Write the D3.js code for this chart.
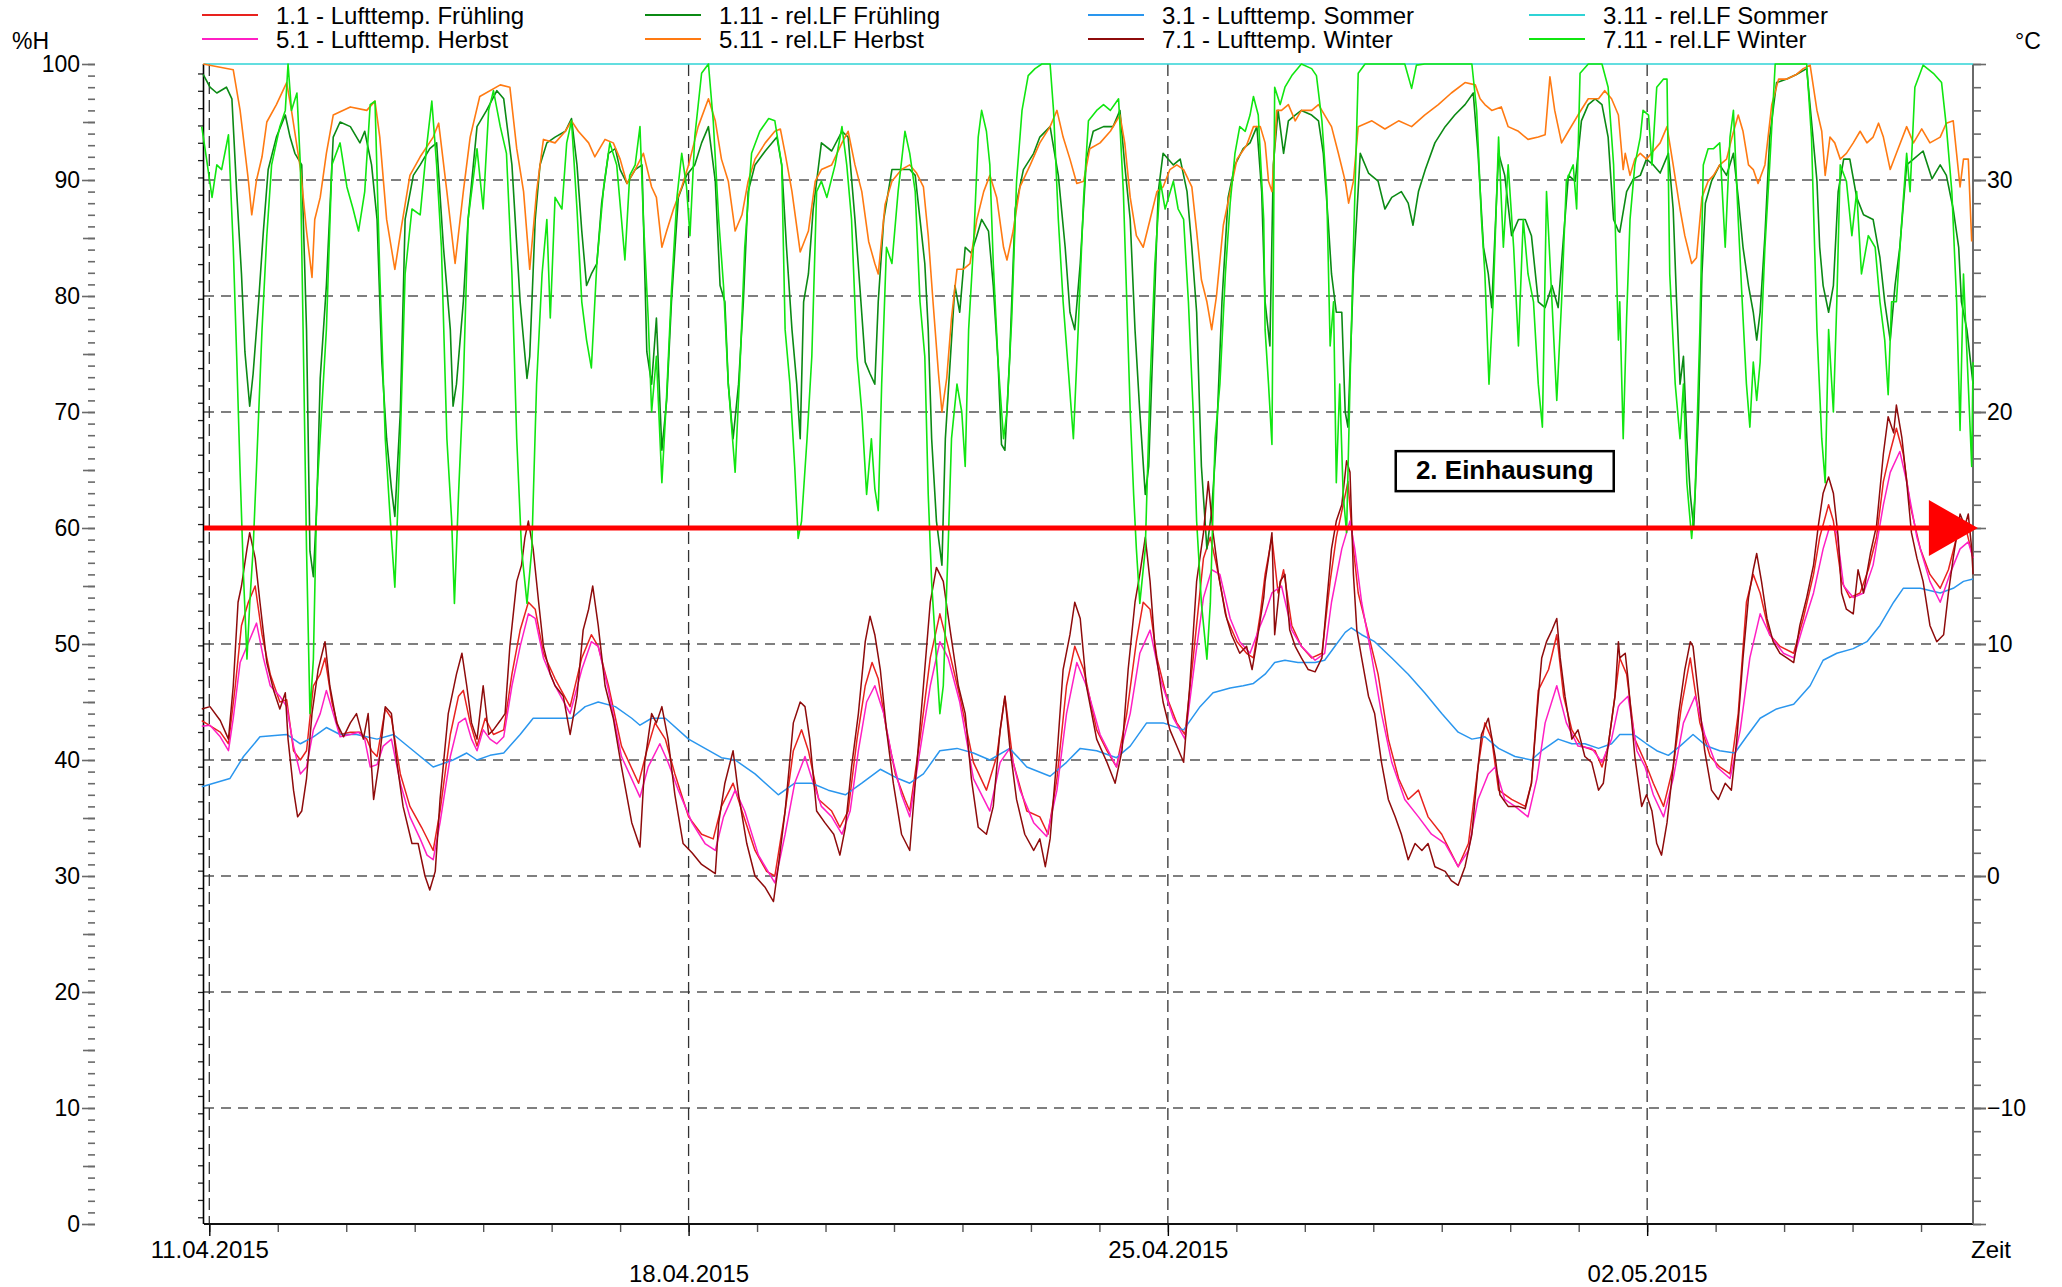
<!DOCTYPE html>
<html><head><meta charset="utf-8">
<script src="https://cdn.jsdelivr.net/npm/d3@7"></script>
<style>
body{margin:0;background:#fff}
svg{display:block}
text{font-family:"Liberation Sans",Arial,sans-serif;fill:#000}
</style>
</head><body>
<svg id="chart" width="2062" height="1287"></svg>
<script>
// ---- time domain (days after 11.04.2015 00:00 UTC) ----
const domainDays = [-0.0774, 25.759];
const weekTicks = ["2015-04-11", "2015-04-18", "2015-04-25", "2015-05-02"];
const weekLabels = ["11.04.2015", "18.04.2015", "25.04.2015", "02.05.2015"];
const rhTicks = [0, 10, 20, 30, 40, 50, 60, 70, 80, 90, 100];
const rhGrid = [10, 20, 30, 40, 50, 60, 70, 80, 90];
const tempTicks = [-10, 0, 10, 20, 30];

const seriesNames = ["1.1 - Lufttemp. Frühling", "1.11 - rel.LF Frühling", "3.1 - Lufttemp. Sommer", "3.11 - rel.LF Sommer",
  "5.1 - Lufttemp. Herbst", "5.11 - rel.LF Herbst", "7.1 - Lufttemp. Winter", "7.11 - rel.LF Winter"];

// [day, °C]
const tFruehling = [[-0.11,6.7],[0.16,6.2],[0.28,5.7],[0.38,8.2],[0.47,10.8],[0.57,11.8],[0.67,12.5],[0.77,10.4],[0.89,8.7],[1.03,7.5],[1.13,7.6],[1.23,5.4],[1.33,5],[1.42,5.4],[1.52,8.2],[1.62,8.7],[1.69,9.4],[1.79,7.5],[1.91,6.1],[2.06,6.2],[2.20,6.2],[2.30,5.9],[2.37,5.4],[2.45,5.15],[2.57,7.2],[2.66,6.8],[2.79,4.4],[2.93,3],[3.10,2.1],[3.27,1.1],[3.37,2.8],[3.52,6.1],[3.64,7.75],[3.71,8],[3.81,6.6],[3.91,5.6],[4.03,6.8],[4.15,6.1],[4.30,6.3],[4.42,8.7],[4.54,10.6],[4.66,11.8],[4.76,11.5],[4.88,9.6],
[5.05,8.5],[5.27,7.3],[5.44,9.4],[5.58,10.4],[5.68,9.9],[5.83,8.2],[6.02,5.6],[6.27,4],[6.39,5.4],[6.51,6.6],[6.66,5.9],[6.80,4.4],[7.00,2.55],[7.19,1.8],[7.36,1.6],[7.48,3],[7.65,4],[7.78,2.8],[7.97,1.1],[8.14,0.2],[8.26,0],[8.41,2.8],[8.53,5.4],[8.65,6.3],[8.75,5.4],[8.90,3.3],[9.09,2.8],[9.21,2.1],[9.33,2.8],[9.46,5.9],[9.58,8.2],[9.68,9.2],[9.77,8.5],[9.89,6.3],[10.02,4.4],[10.16,3.3],
[10.23,2.8],[10.38,5.9],[10.53,9.4],[10.67,11.3],[10.79,9.9],[10.96,7.75],[11.16,4.9],[11.35,3.7],[11.50,5.15],[11.62,7.75],[11.74,4.9],[11.94,2.8],[12.13,2.55],[12.25,1.8],[12.38,4.2],[12.52,8.2],[12.64,9.9],[12.77,8.9],[12.96,6.3],[13.11,5.4],[13.25,4.7],[13.40,7],[13.54,10.1],[13.64,11.8],[13.74,11.5],[13.84,9.4],[13.98,7.75],[14.13,6.6],[14.25,6.1],[14.37,9.4],[14.52,13.7],[14.62,14.6],[14.71,13.4],[14.86,11.1],[15.01,10.1],[15.15,9.6],[15.25,9.4],[15.35,11.3],
[15.42,13],[15.52,14.6],[15.61,12.2],[15.69,13.2],[15.81,10.8],[15.95,9.9],[16.10,9.4],[16.25,9.6],[16.37,12.7],[16.46,14.6],[16.56,16],[16.63,17],[16.71,14.1],[16.78,12.2],[16.93,10.4],[17.07,8.7],[17.22,5.9],[17.37,4.2],[17.51,3.3],[17.66,3.7],[17.80,2.55],[18.00,1.8],[18.24,0.4],[18.39,1.4],[18.53,4.7],[18.63,6.6],[18.73,5.9],[18.83,3.7],[19.02,3.3],[19.22,3],[19.31,4],[19.41,8],[19.56,8.9],[19.68,10.4],[19.78,7.75],[19.90,6.3],[20.04,5.6],[20.24,5.4],[20.34,4.7],[20.43,5.6],[20.53,7.75],
[20.60,9.4],[20.70,8.7],[20.82,5.9],[20.97,4.9],[21.09,4],[21.24,3],[21.38,4.7],[21.50,7.3],[21.63,9.4],[21.77,6.6],[21.92,5.15],[22.06,4.7],[22.21,4.4],[22.33,7],[22.45,11.8],[22.55,13],[22.65,12.2],[22.79,10.4],[22.94,9.9],[23.14,9.6],[23.28,11.1],[23.43,13],[23.52,14.6],[23.65,16],[23.72,15.3],[23.84,12.7],[23.96,12],[24.11,12.2],[24.23,13.2],[24.35,14.6],[24.45,17],[24.55,18.3],[24.64,19.3],[24.74,18.2],[24.84,16],[24.99,14.1],[25.13,13],[25.28,12.4],[25.40,13.2],[25.52,14.6],[25.67,14.8],[25.76,13.7]];

// [day, %H]
const rhFruehling = [[-0.09,99.1],[0.01,98],[0.11,97.5],[0.25,98],[0.33,97],[0.40,89],[0.47,81.9],[0.52,75.2],[0.59,70.5],[0.64,73.3],[0.72,79.5],[0.79,85.6],[0.86,90.9],[0.98,93.7],[1.11,95.6],[1.18,93.7],[1.25,92.3],[1.35,91.3],[1.42,77.1],[1.47,58],[1.52,55.8],[1.57,62],[1.62,72.9],[1.71,80.9],[1.81,93.7],[1.91,95],[2.06,94.6],[2.20,93.2],[2.27,94.2],[2.37,91.3],[2.45,86.6],[2.52,74.3],[2.59,67.7],[2.66,63.4],[2.71,61],[2.79,70],[2.86,86.6],[2.98,90.4],[3.08,91.3],[3.22,92.7],[3.32,93.2],[3.42,84.2],[3.52,77.1],[3.56,70.5],[3.61,72.4],[3.71,79.5],[3.78,86.6],[3.91,94.6],[4.05,96],[4.20,97.7],[4.30,97],[4.42,91.3],[4.54,79.5],[4.64,72.9],[4.68,74.8],[4.76,86.6],[4.83,91.3],[4.93,93.2],
[5.05,93.7],[5.20,94.2],[5.29,95.3],[5.37,91.3],[5.44,85.6],[5.51,80.9],[5.58,81.9],[5.66,82.8],[5.73,88],[5.83,92.3],[5.93,92.7],[6.00,90.9],[6.10,89.7],[6.22,90.9],[6.32,91.3],[6.39,75.2],[6.46,72.4],[6.53,78.1],[6.61,66.7],[6.68,71],[6.75,79.5],[6.85,88.5],[6.97,90.4],[7.09,91.3],[7.19,93.2],[7.29,94.6],[7.39,89.9],[7.46,80.9],[7.53,79.5],[7.58,72.4],[7.65,67.7],[7.73,72.4],[7.80,79.5],[7.87,89],[7.97,91.3],[8.12,92.5],[8.29,93.7],[8.36,91.3],[8.43,84.2],[8.51,77.1],[8.58,72.4],[8.63,67.7],[8.68,79.5],[8.75,81.9],[8.82,87.5],[8.94,93.2],[9.09,92.5],[9.24,94.2],[9.33,93.7],[9.43,86.6],[9.50,80.9],[9.58,74.3],[9.65,73.3],[9.72,72.4],[9.77,79.5],[9.85,86.6],[9.97,90.9],[10.11,90.9],
[10.23,90.9],[10.31,90.4],[10.38,86.6],[10.45,82.8],[10.50,77.1],[10.55,67.7],[10.62,60.6],[10.70,56.8],[10.75,67.7],[10.82,74.3],[10.89,80.9],[10.96,78.6],[11.04,84.2],[11.13,83.7],[11.21,85.2],[11.28,86.6],[11.38,85.6],[11.45,80.9],[11.52,74.3],[11.57,67.2],[11.62,66.7],[11.69,74.8],[11.77,87.5],[11.89,90.9],[12.04,92.3],[12.13,93.7],[12.28,94.6],[12.40,90.4],[12.50,84.2],[12.57,78.6],[12.64,77.1],[12.72,82.8],[12.81,91.8],[12.91,94.2],[13.06,94.6],[13.20,94.6],[13.30,96],[13.37,91.3],[13.45,86.6],[13.52,77.1],[13.59,70],[13.67,62.9],[13.72,65.3],[13.79,77.1],[13.86,89],[13.93,92.3],[14.08,91.3],[14.18,91.8],[14.28,89],[14.35,84.2],[14.42,78.6],[14.49,65.3],[14.57,58.2],[14.64,61.5],[14.71,67.7],[14.79,79.5],[14.88,88.5],[14.98,91.3],[15.10,92.7],[15.20,93.2],[15.30,94.6],[15.37,89],
[15.42,79.5],[15.49,75.7],[15.54,91.3],[15.61,96],[15.69,92.3],[15.76,95.1],[15.86,95.6],[15.95,96],[16.10,95.6],[16.20,95.1],[16.27,92.3],[16.34,86.6],[16.39,81.9],[16.46,78.6],[16.54,78.6],[16.59,70],[16.63,68.7],[16.71,81.9],[16.81,92.3],[16.93,90.6],[17.07,89.9],[17.17,87.5],[17.27,88.5],[17.41,89],[17.51,88],[17.58,86.1],[17.66,89],[17.76,90.9],[17.90,93.2],[18.05,94.6],[18.19,95.6],[18.34,96.5],[18.46,97.5],[18.53,92.3],[18.61,84.2],[18.68,81.9],[18.73,79],[18.83,92.3],[18.92,90.4],[19.02,85.2],[19.12,86.6],[19.22,86.6],[19.31,85.2],[19.41,79.5],[19.51,79],[19.61,80.9],[19.70,79],[19.78,85.2],[19.85,90.4],[19.95,89.9],[20.04,95.1],[20.14,96.5],[20.24,97],[20.34,96.5],[20.43,93.7],[20.51,86.6],[20.58,85.6],
[20.60,85.5],[20.70,89],[20.80,90.1],[20.90,90.4],[20.99,91.8],[21.09,91.3],[21.19,90.6],[21.31,92.3],[21.38,87.5],[21.43,79.5],[21.48,72.4],[21.53,74.8],[21.58,67.7],[21.63,62.9],[21.68,60],[21.75,70],[21.80,81.9],[21.85,88],[21.94,89.9],[22.06,91.3],[22.16,90.4],[22.26,92.3],[22.33,88.5],[22.40,84.2],[22.48,80.9],[22.55,78.6],[22.60,76.2],[22.65,78.6],[22.72,85.2],[22.79,93.7],[22.89,98.4],[23.04,98.7],[23.18,99.1],[23.33,99.6],[23.40,95.1],[23.48,89.9],[23.52,84.2],[23.57,80.9],[23.65,78.6],[23.72,80.9],[23.79,89],[23.87,91.8],[23.96,91.8],[24.06,88.5],[24.16,87],[24.30,86.6],[24.40,83.3],[24.47,79.5],[24.55,76.2],[24.62,80.9],[24.69,84.2],[24.79,91.3],[24.89,91.8],[25.03,92.5],[25.16,90.1],[25.28,91.3],[25.37,90.4],[25.47,87.5],[25.55,84.2],[25.59,79.5],[25.67,77.1],[25.76,72.4]];

// [day, °C]
const tSommer = [[-0.11,3.85],[0.30,4.2],[0.50,5.15],[0.74,6],[1.13,6.1],[1.33,5.7],[1.52,6],[1.71,6.4],[1.91,6.1],[2.15,6.1],[2.45,5.9],[2.69,6.1],[2.98,5.4],[3.27,4.7],[3.56,5],[3.76,5.3],[3.91,5],[4.10,5.2],[4.30,5.3],[4.54,6.1],[4.73,6.8],[4.93,6.8],
[5.05,6.8],[5.29,6.8],[5.49,7.3],[5.68,7.5],[5.93,7.3],[6.17,6.8],[6.29,6.5],[6.46,6.8],[6.66,6.8],[7.00,5.9],[7.24,5.5],[7.48,5.1],[7.68,5],[7.97,4.4],[8.31,3.5],[8.55,4],[8.80,4],[9.04,3.7],[9.29,3.5],[9.53,4],[9.80,4.6],[10.06,4.2],
[10.23,4],[10.43,4.4],[10.67,5.4],[10.92,5.5],[11.16,5.3],[11.40,5],[11.69,5.5],[11.94,4.7],[12.28,4.3],[12.52,4.9],[12.72,5.5],[12.96,5.4],[13.25,5.1],[13.45,5.6],[13.69,6.6],[13.93,6.6],[14.23,6.3],[14.47,7.3],[14.66,7.9],[14.91,8.1],[15.10,8.2],[15.25,8.3],
[15.42,8.7],[15.56,9.2],[15.71,9.3],[15.90,9.2],[16.15,9.2],[16.29,9.3],[16.44,9.9],[16.59,10.5],[16.68,10.7],[16.83,10.4],[17.02,10.1],[17.27,9.4],[17.51,8.7],[17.75,7.9],[18.00,7],[18.24,6.2],[18.44,5.9],[18.63,6],[18.83,5.5],[19.07,5.15],[19.31,5],[19.46,5.4],[19.70,5.9],[19.90,5.7],[20.09,5.7],[20.29,5.5],[20.48,5.7],
[20.60,6.1],[20.80,6.1],[20.99,5.7],[21.14,5.4],[21.31,5.2],[21.48,5.6],[21.67,6.1],[21.87,5.6],[22.06,5.4],[22.28,5.3],[22.45,6],[22.65,6.8],[22.89,7.2],[23.14,7.4],[23.38,8.2],[23.57,9.3],[23.77,9.6],[24.01,9.8],[24.21,10.1],[24.40,10.8],[24.60,11.8],[24.74,12.4],[24.99,12.4],[25.28,12.2],[25.47,12.4],[25.62,12.7],[25.76,12.8]];

// [day, %H]
const rhSommer = [[-0.08,100],[25.76,100]];

// [day, °C]
const tHerbst = [[-0.11,6.45],[0.01,6.5],[0.16,6],[0.28,5.4],[0.35,6.8],[0.45,9.2],[0.55,9.9],[0.69,10.9],[0.79,9.4],[0.89,8.2],[1.03,7.75],[1.13,7.3],[1.23,5.6],[1.33,4.4],[1.42,4.7],[1.52,6.3],[1.62,7],[1.71,8],[1.81,7],[1.91,6],[2.06,6.1],[2.18,6.2],[2.27,5.9],[2.35,4.7],[2.45,4.8],[2.54,5.6],[2.66,5.9],[2.79,4],[2.93,2.55],[3.08,1.6],[3.18,0.9],[3.27,0.7],[3.37,2.3],[3.52,5.15],[3.64,6.6],[3.74,6.8],[3.83,5.9],[3.91,5.4],[4.00,6.3],[4.10,5.9],[4.20,5.7],[4.30,6],[4.42,8.2],[4.54,9.9],[4.66,11.3],[4.76,11.1],[4.88,9.4],
[5.05,8.2],[5.27,7],[5.44,8.9],[5.58,10.1],[5.68,9.9],[5.83,8],[6.02,5.15],[6.29,3.4],[6.41,4.7],[6.58,5.7],[6.70,4.9],[6.85,3.7],[7.05,2.3],[7.24,1.4],[7.39,1.1],[7.51,2.55],[7.68,3.7],[7.82,2.8],[8.02,0.9],[8.26,-0.3],[8.41,1.8],[8.55,4],[8.70,5.15],[8.80,4.2],[8.94,3],[9.09,2.55],[9.24,1.8],[9.36,2.8],[9.48,5.4],[9.60,7.5],[9.72,8.2],[9.85,7],[9.97,5.15],[10.11,3.5],
[10.23,2.55],[10.38,5.4],[10.53,8.2],[10.67,10.1],[10.79,9.4],[10.96,7.5],[11.16,4.2],[11.40,2.8],[11.55,4.9],[11.69,5.5],[11.84,3.7],[12.04,2.3],[12.23,1.7],[12.38,3.7],[12.52,7],[12.67,9.2],[12.81,8.2],[13.01,6.1],[13.25,4.7],[13.45,7],[13.59,9.6],[13.74,10.6],[13.89,8.5],[14.08,6.8],[14.25,5.9],[14.40,9.4],[14.52,12],[14.64,13.2],[14.76,13],[14.91,11.1],[15.05,10.1],[15.20,9.6],[15.35,10.8],
[15.42,11.3],[15.52,12.2],[15.66,12.5],[15.81,10.6],[15.95,9.9],[16.15,9.3],[16.29,9.6],[16.39,11.8],[16.54,14.1],[16.66,15.3],[16.73,14.1],[16.83,11.8],[16.98,9.4],[17.12,7],[17.27,4.9],[17.46,3.3],[17.66,2.55],[17.85,1.8],[18.05,1.4],[18.24,0.4],[18.39,1.1],[18.53,3.3],[18.68,4.4],[18.78,4.7],[18.92,3.3],[19.07,3],[19.26,2.55],[19.39,4.2],[19.51,6.6],[19.68,8.2],[19.82,6.6],[19.99,5.6],[20.19,5.5],[20.34,4.9],[20.48,5.9],[20.58,7.3],
[20.60,7.4],[20.72,7.75],[20.85,5.4],[20.97,4.7],[21.09,3.5],[21.24,2.55],[21.38,4.2],[21.53,6.6],[21.70,7.75],[21.84,6.1],[22.02,4.7],[22.21,4.2],[22.36,6.3],[22.50,9.4],[22.65,11.3],[22.79,10.4],[22.99,9.6],[23.14,9.4],[23.28,10.8],[23.43,12.2],[23.57,14.1],[23.67,15.1],[23.77,14.8],[23.87,12.5],[24.01,12],[24.16,12.2],[24.30,13.4],[24.45,16],[24.55,17.4],[24.69,18.3],[24.79,17],[24.94,14.6],[25.13,12.7],[25.28,11.8],[25.42,13],[25.57,14.1],[25.69,14.4],[25.76,13.7]];

// [day, %H]
const rhHerbst = [[-0.09,100],[0.35,99.5],[0.45,96],[0.57,90],[0.62,87],[0.69,90],[0.77,92],[0.84,95],[0.98,96.5],[1.13,98.4],[1.20,96],[1.33,91],[1.42,85.6],[1.50,81.6],[1.54,86.6],[1.62,88.5],[1.71,92.3],[1.81,95.6],[2.06,96.3],[2.30,96],[2.42,96.8],[2.49,93.7],[2.59,86.6],[2.71,82.3],[2.81,86.1],[2.93,90.4],[3.08,92],[3.27,93.7],[3.35,94.9],[3.47,89],[3.59,82.8],[3.71,89],[3.81,93.7],[3.95,97.2],[4.25,98.2],[4.39,98],[4.49,92.7],[4.59,89],[4.68,82.3],[4.78,89],[4.88,93.5],
[5.05,93.2],[5.20,94.2],[5.29,95.1],[5.39,94.2],[5.54,93.2],[5.63,92],[5.78,93.5],[5.90,93.2],[6.00,91.8],[6.10,89.7],[6.22,90.9],[6.34,92.3],[6.46,89.4],[6.53,88.5],[6.61,84.2],[6.68,85.6],[6.78,87.5],[6.90,89.4],[7.00,91.3],[7.14,94.6],[7.29,97],[7.39,95.1],[7.48,91.8],[7.58,89.9],[7.68,85.6],[7.78,87],[7.87,89.9],[7.97,91.8],[8.12,93.2],[8.26,94.2],[8.34,94.4],[8.41,92.3],[8.51,89],[8.63,83.8],[8.75,85.6],[8.85,89.9],[8.94,90.9],[9.09,91.3],[9.24,93.2],[9.33,94.2],[9.43,91.3],[9.53,89],[9.63,84.7],[9.72,82.8],[9.77,81.9],[9.87,87.9],[9.97,89.9],[10.11,90.9],
[10.23,91.3],[10.33,90.6],[10.43,89.4],[10.50,85.2],[10.57,79.5],[10.65,73.3],[10.70,70],[10.77,72.9],[10.84,78.1],[10.92,82.3],[11.01,82.3],[11.11,82.8],[11.21,86.6],[11.31,89],[11.40,90.4],[11.50,88.5],[11.60,84.2],[11.65,83.1],[11.74,85.6],[11.84,89.4],[11.99,91.3],[12.13,93.2],[12.28,94.6],[12.38,96],[12.47,93.7],[12.57,91.8],[12.67,89.7],[12.77,89.9],[12.86,92.7],[13.01,93.2],[13.16,94.2],[13.30,95.6],[13.37,93.2],[13.45,88.5],[13.54,85.2],[13.64,84.2],[13.74,86.6],[13.84,89],[13.93,89.4],[14.03,90.9],[14.13,91.3],[14.23,90.9],[14.35,89.4],[14.42,85.6],[14.49,81.4],[14.57,79.5],[14.64,77.1],[14.71,80],[14.81,86.1],[14.91,89],[15.01,91.8],[15.15,93],[15.25,94.6],[15.35,94.6],
[15.42,93.2],[15.47,89.9],[15.52,89],[15.59,96],[15.66,96],[15.76,96.5],[15.86,95.1],[15.95,96],[16.10,96],[16.20,96.5],[16.29,95.6],[16.39,94.6],[16.49,92.3],[16.59,89.9],[16.64,88],[16.71,89.9],[16.78,94.6],[16.98,95.1],[17.17,94.4],[17.37,95.1],[17.56,94.6],[17.75,95.6],[17.95,96.5],[18.14,97.5],[18.34,98.4],[18.49,98.2],[18.56,97],[18.63,96.5],[18.73,96],[18.87,96.3],[18.97,94.6],[19.12,94.2],[19.26,93.5],[19.41,93.7],[19.51,93.9],[19.58,98.9],[19.65,96],[19.75,93.2],[19.85,94.2],[19.99,95.6],[20.14,97],[20.29,97],[20.38,97.7],[20.48,97],[20.58,95.6],
[20.65,90.9],[20.68,92.3],[20.75,90.4],[20.82,91.8],[20.90,92.3],[20.99,91.8],[21.09,92.5],[21.19,93.2],[21.29,94.6],[21.38,91.3],[21.48,87.5],[21.55,85.2],[21.65,82.8],[21.72,83.3],[21.80,88.5],[21.89,89.9],[21.97,90.4],[22.06,91.3],[22.16,91.8],[22.24,93.7],[22.33,95.6],[22.40,94.2],[22.48,91.3],[22.55,90.9],[22.62,89.7],[22.72,91.3],[22.82,96.5],[22.92,98.7],[23.04,98.7],[23.18,99.1],[23.28,99.6],[23.38,99.9],[23.48,96],[23.55,94.2],[23.60,90.4],[23.67,93.7],[23.74,93.2],[23.82,91.8],[23.91,92.3],[24.01,93.2],[24.11,94.2],[24.21,93.2],[24.30,93.7],[24.38,94.9],[24.45,93.7],[24.55,90.9],[24.64,92.3],[24.79,94.6],[24.89,93.2],[25.01,94.4],[25.13,93.2],[25.28,93.7],[25.37,94.9],[25.47,95.1],[25.57,89.4],[25.62,91.8],[25.69,91.8],[25.74,84.7]];

// [day, °C]
const tWinter = [[-0.11,7.2],[0.01,7.3],[0.16,6.7],[0.28,5.9],[0.35,8.2],[0.42,11.8],[0.47,12.5],[0.55,14.1],[0.59,14.8],[0.67,13.7],[0.74,11.8],[0.84,9.2],[0.94,8],[1.03,7.2],[1.11,7.9],[1.15,5.9],[1.23,3.7],[1.29,2.55],[1.35,2.8],[1.42,4.2],[1.50,7],[1.59,8.9],[1.69,10.1],[1.76,8.2],[1.86,6.6],[1.96,6],[2.06,6.6],[2.15,7],[2.25,5.9],[2.32,7],[2.40,3.3],[2.47,4.7],[2.57,7.3],[2.66,7],[2.74,4.9],[2.83,3],[2.96,1.4],[3.05,1.4],[3.15,0],[3.22,-0.6],[3.30,0.2],[3.37,3.3],[3.49,7],[3.61,8.7],[3.69,9.6],[3.76,8.2],[3.83,6.6],[3.91,5.9],[4.00,8.2],[4.08,6.1],[4.15,6.3],[4.25,6.7],[4.32,7],[4.39,9.9],[4.49,12.7],[4.56,13.4],[4.61,14.6],[4.66,15.3],[4.73,14.1],[4.81,11.8],[4.88,9.9],[4.98,8.7],
[5.05,8.2],[5.17,7.75],[5.27,6.1],[5.37,7.75],[5.46,10.6],[5.54,11.5],[5.60,12.5],[5.68,10.8],[5.78,8.2],[5.90,6.8],[6.02,4.7],[6.17,2.3],[6.29,1.25],[6.36,4.9],[6.46,7],[6.53,6.6],[6.61,7.3],[6.70,5.9],[6.80,3.5],[6.92,1.4],[7.05,1],[7.19,0.5],[7.39,0.1],[7.44,2.3],[7.53,4],[7.65,5.4],[7.73,3.5],[7.85,1.4],[7.97,0],[8.12,-0.5],[8.24,-1.1],[8.31,0.4],[8.41,2.8],[8.53,6.6],[8.63,7.5],[8.70,7.3],[8.77,5.9],[8.87,2.8],[8.99,2.3],[9.12,1.8],[9.21,0.9],[9.29,2.1],[9.38,4.7],[9.48,7],[9.58,10.1],[9.65,11.2],[9.72,10.4],[9.80,8.9],[9.89,6.3],[9.99,4],[10.11,1.8],
[10.23,1.1],[10.33,4.7],[10.43,8.2],[10.53,11.8],[10.62,13.3],[10.72,12.7],[10.82,10.6],[10.94,8.2],[11.04,7],[11.13,4.2],[11.23,2.1],[11.35,1.8],[11.45,3],[11.55,6.3],[11.62,7.75],[11.69,5.6],[11.79,3.3],[11.91,1.8],[12.04,1.1],[12.13,1.6],[12.21,0.4],[12.28,1.6],[12.38,5.15],[12.47,8.9],[12.57,10.4],[12.64,11.8],[12.72,11.1],[12.81,8.2],[12.96,5.9],[13.11,4.9],[13.23,4],[13.33,5.4],[13.42,8.9],[13.52,11.8],[13.59,13],[13.67,14.6],[13.74,12.7],[13.81,9.9],[13.93,7.5],[14.03,6.3],[14.13,5.6],[14.23,4.9],[14.32,8.2],[14.42,12.7],[14.52,14.8],[14.59,17],[14.66,14.8],[14.74,13],[14.84,11.3],[14.93,10.4],[15.05,9.6],[15.15,9.9],[15.23,8.9],[15.30,10.1],[15.40,12],
[15.42,12.7],[15.47,13.7],[15.52,14.8],[15.56,10.4],[15.64,12.7],[15.71,13],[15.78,10.6],[15.86,9.9],[15.95,9.4],[16.05,8.9],[16.15,8.8],[16.25,9.4],[16.32,11.8],[16.39,14.1],[16.46,15.3],[16.54,16],[16.61,17.9],[16.66,17.4],[16.71,13],[16.76,10.6],[16.83,9.4],[16.93,7.75],[17.02,7],[17.12,4.9],[17.22,3.3],[17.32,2.55],[17.41,1.8],[17.51,0.7],[17.61,1.4],[17.71,1.1],[17.80,1.4],[17.90,0.4],[18.05,0.2],[18.14,-0.2],[18.24,-0.4],[18.34,0.4],[18.44,1.8],[18.53,4.7],[18.58,6.1],[18.68,6.8],[18.78,5.15],[18.85,3.5],[18.97,3],[19.12,3],[19.22,2.9],[19.31,4],[19.39,7],[19.46,9.4],[19.53,10.1],[19.61,10.6],[19.68,11.1],[19.73,9.4],[19.80,7.75],[19.90,5.9],[19.99,6.3],[20.09,5.15],[20.19,4.9],[20.29,3.7],[20.36,4],[20.43,5.6],[20.53,7.75],[20.58,10.1],
[20.60,9.4],[20.68,9.6],[20.72,8.5],[20.82,5.15],[20.92,3],[20.99,3.5],[21.07,2.8],[21.14,1.4],[21.21,0.9],[21.29,2.3],[21.38,4.7],[21.46,7],[21.55,8.9],[21.63,10.1],[21.67,9.9],[21.75,7.75],[21.84,5.4],[21.94,3.7],[22.04,3.3],[22.14,4],[22.23,3.7],[22.31,5.9],[22.40,9.4],[22.48,12],[22.55,13.2],[22.60,13.9],[22.67,12.7],[22.75,11.1],[22.84,10.1],[22.94,9.6],[23.04,9.4],[23.14,9.2],[23.23,10.8],[23.33,12],[23.43,13.4],[23.50,15.1],[23.57,16.5],[23.65,17.2],[23.72,16.5],[23.79,14.6],[23.84,12.2],[23.91,11.5],[24.01,11.3],[24.08,13.2],[24.16,12.2],[24.26,13.9],[24.35,15.1],[24.45,18.2],[24.52,19.8],[24.60,19.1],[24.64,20.3],[24.72,18.9],[24.79,17],[24.86,14.8],[24.94,13.7],[25.03,12.7],[25.13,10.8],[25.23,10.1],[25.33,10.4],[25.40,12.2],[25.47,13.7],[25.57,15.6],[25.64,15.1],[25.69,15.6],[25.74,14.1],[25.76,13]];

// [day, %H]
const rhWinter = [[-0.11,94.6],[-0.04,91.8],[0.04,88.5],[0.11,91.3],[0.18,90.9],[0.28,93.9],[0.35,84.2],[0.40,74.8],[0.45,64.8],[0.50,55.8],[0.55,48.7],[0.59,53.4],[0.64,58.2],[0.69,65.3],[0.77,77.1],[0.84,85.2],[0.91,91.3],[1.03,94.6],[1.11,96],[1.15,100],[1.20,96],[1.28,97.5],[1.33,91.3],[1.37,77.1],[1.42,58.2],[1.47,44],[1.52,48.7],[1.57,62.9],[1.64,70],[1.71,77.1],[1.79,91.3],[1.91,93.2],[2.01,89.4],[2.10,87.5],[2.18,85.6],[2.27,89],[2.35,96.5],[2.42,96.8],[2.49,81.9],[2.57,67.7],[2.64,61],[2.71,54.9],[2.79,67.7],[2.86,81.9],[2.96,87.5],[3.08,87],[3.18,93.2],[3.25,96.8],[3.32,91.3],[3.39,84.2],[3.47,67.7],[3.54,60.6],[3.58,53.5],[3.64,62.9],[3.71,72.4],[3.78,86.6],[3.91,92.7],[4.00,87.5],[4.08,96],[4.15,97.7],[4.25,94.6],[4.34,92.3],[4.42,81.9],[4.49,67.7],[4.56,58.2],[4.64,53.5],[4.71,58.2],[4.78,72.4],[4.86,81.9],[4.93,86.6],[4.98,78.1],
[5.05,88.5],[5.15,87.5],[5.22,93.2],[5.29,95.1],[5.37,87.5],[5.44,79.5],[5.51,76.2],[5.58,73.8],[5.66,82.8],[5.76,89.4],[5.85,93.2],[5.95,91.3],[6.02,86.6],[6.07,83.1],[6.14,90.4],[6.22,91.3],[6.29,94.6],[6.34,86.6],[6.41,78.1],[6.46,70],[6.53,74.8],[6.61,63.9],[6.68,71.5],[6.75,80.5],[6.83,88.5],[6.90,92.3],[6.97,89.4],[7.02,85.2],[7.09,93.7],[7.19,99.2],[7.29,100],[7.36,95.1],[7.44,86.6],[7.51,80.9],[7.58,72.4],[7.68,64.8],[7.75,73.8],[7.82,84.2],[7.92,92.3],[8.04,94.2],[8.17,95.3],[8.26,95.1],[8.36,91.3],[8.41,77.1],[8.48,72.4],[8.55,65.3],[8.60,59.1],[8.65,60.6],[8.73,67.7],[8.80,74.8],[8.87,89],[8.94,89.9],[9.02,88.5],[9.14,91.3],[9.24,94.6],[9.31,91.3],[9.38,86.6],[9.46,74.8],[9.53,70],[9.60,62.9],[9.67,67.7],[9.72,63.4],[9.77,61.5],[9.82,72.4],[9.89,84.2],[9.97,82.8],[10.06,89],[10.16,94.2],
[10.23,92.3],[10.31,89],[10.38,79.5],[10.45,74.8],[10.50,62.9],[10.55,55.3],[10.62,48.7],[10.67,44],[10.72,46.4],[10.79,58.2],[10.84,67.7],[10.92,72.4],[10.99,70],[11.04,65.3],[11.09,77.1],[11.16,84.2],[11.23,93.7],[11.28,96],[11.35,94.2],[11.40,91.3],[11.45,82.8],[11.52,74.3],[11.60,67.7],[11.65,70],[11.72,78.1],[11.79,89.9],[11.87,96],[11.96,99],[12.06,99.6],[12.16,100],[12.28,100],[12.33,96],[12.40,86.6],[12.47,79.5],[12.55,73.3],[12.62,67.7],[12.69,77.1],[12.77,88.5],[12.84,95.1],[12.96,96],[13.06,96.5],[13.16,96],[13.28,97],[13.35,89],[13.40,79.5],[13.45,70],[13.50,62.9],[13.54,58.2],[13.59,53.5],[13.67,58.2],[13.74,72.4],[13.81,82.8],[13.89,89.9],[13.96,87.5],[14.08,89.9],[14.15,87.5],[14.23,86.6],[14.30,79.5],[14.37,70],[14.42,60.6],[14.49,53.5],[14.57,48.7],[14.62,53.5],[14.69,67.7],[14.76,72.4],[14.84,81.9],[14.91,88],[14.98,92.3],[15.05,94.6],[15.13,94.2],[15.20,95.6],[15.25,97.2],[15.32,95.6],[15.40,86.6],
[15.42,77.1],[15.47,72.4],[15.52,67.2],[15.56,98],[15.64,96.5],[15.71,98],[15.81,99],[15.95,100],[16.10,99.6],[16.17,99],[16.25,95.1],[16.32,89],[16.37,75.7],[16.42,79.5],[16.46,63.9],[16.51,72.4],[16.56,62.9],[16.61,59.6],[16.66,72.4],[16.71,84.2],[16.78,99.2],[16.88,100],[17.46,100],[17.56,97.9],[17.63,99.9],[17.75,100],[18.44,100],[18.51,96],[18.58,86.6],[18.63,81.9],[18.69,72.4],[18.75,79.5],[18.83,93.7],[18.90,84.2],[18.97,91.3],[19.05,84.2],[19.12,75.7],[19.19,86.6],[19.26,81.9],[19.34,79.5],[19.41,72.4],[19.47,68.7],[19.53,89],[19.61,79.5],[19.68,71],[19.75,79.5],[19.82,89.9],[19.92,91.3],[19.97,87.5],[20.02,99.2],[20.14,100],[20.34,100],[20.43,98],[20.51,91.3],[20.58,76.2],
[20.60,79.5],[20.65,67.7],[20.70,78.1],[20.75,86.6],[20.82,91.3],[20.90,93.7],[20.94,96],[21.02,95.6],[21.07,91.3],[21.14,98],[21.24,98.7],[21.29,98.7],[21.33,81.9],[21.41,72.4],[21.48,67.7],[21.53,72.4],[21.58,63.9],[21.65,59.1],[21.70,62.9],[21.77,77.1],[21.82,91.3],[21.89,92.7],[21.97,92.7],[22.06,93.2],[22.14,84.2],[22.21,93.7],[22.26,96],[22.33,86.6],[22.38,80.5],[22.45,72.4],[22.50,68.7],[22.55,74.3],[22.60,71],[22.65,74.3],[22.72,84.2],[22.79,91.3],[22.87,100],[23.33,100],[23.40,93.7],[23.48,77.1],[23.55,67.7],[23.60,63.9],[23.65,77.1],[23.72,70],[23.77,79.5],[23.82,91.3],[23.91,89.9],[23.99,85.2],[24.06,89],[24.13,81.9],[24.23,85.2],[24.33,84.2],[24.40,79.5],[24.47,76.2],[24.52,71.5],[24.57,79.5],[24.64,79.5],[24.72,86.6],[24.79,92.3],[24.84,89],[24.91,98],[25.03,99.9],[25.18,99.2],[25.30,98.4],[25.37,94.6],[25.45,89],[25.52,79.5],[25.57,68.4],[25.62,81.9],[25.69,72.4],[25.74,65.3],[25.76,74.3]];

const seriesData = [tFruehling, rhFruehling, tSommer, rhSommer, tHerbst, rhHerbst, tWinter, rhWinter];
const seriesUnit = ["C", "H", "C", "H", "C", "H", "C", "H"];
const seriesColors = ["#e8221e", "#0b8a14", "#2a96ee", "#2fd3d6", "#ff1fc4", "#ff7a12", "#8e0b0b", "#10e610"];

const arrowLevel = 60;           // %H
const arrowEndDay = 25.83;
const noteText = "2. Einhausung";
const noteAt = [18.92, 64.9];    // [day, %H]

// ---------------- drawing ----------------
const svg = d3.select("#chart");
const day0 = Date.UTC(2015, 3, 11);
const toDate = d => new Date(day0 + d * 864e5);

const L = 204, R = 1973, T = 64, B = 1224;
const x = d3.scaleUtc().domain(domainDays.map(toDate)).range([L, R]);
const yL = d3.scaleLinear().domain([0, 100]).range([B, T]);
const yR = d3.scaleLinear().domain([-15, 35]).range([B, T]);
const FONT = "'Liberation Sans',Arial,sans-serif";

svg.append("rect").attr("width", 2062).attr("height", 1287).attr("fill", "#fff");

// grid
svg.append("g").selectAll("line").data(rhGrid).join("line")
  .attr("x1", L).attr("x2", R).attr("y1", d => yL(d)).attr("y2", d => yL(d))
  .attr("stroke", "#555").attr("stroke-width", 1.6).attr("stroke-dasharray", "10,7");
const weekDates = weekTicks.map(s => new Date(s + "T00:00:00Z"));
svg.append("g").selectAll("line").data(weekDates).join("line")
  .attr("x1", d => x(d)).attr("x2", d => x(d)).attr("y1", T).attr("y2", B)
  .attr("stroke", "#333").attr("stroke-width", 1.3).attr("stroke-dasharray", "12,6");

// bottom axis: day ticks
const gx = svg.append("g").attr("transform", `translate(0,${B})`);
gx.call(d3.axisBottom(x).ticks(d3.utcDay.every(1)).tickSize(8).tickFormat(""));
gx.select(".domain").remove();
gx.selectAll("line").attr("stroke", "#555").attr("stroke-width", 1.4);
const gxw = svg.append("g").attr("transform", `translate(0,${B})`);
gxw.call(d3.axisBottom(x).tickValues(weekDates).tickSize(12).tickPadding(4)
  .tickFormat((d, i) => weekLabels[i]));
gxw.select(".domain").remove();
gxw.selectAll("line").attr("stroke", "#000").attr("stroke-width", 1.4);
gxw.selectAll("text").attr("font-size", 24).attr("y", (d, i) => i % 2 ? 58 : 34).attr("dy", 0)
  .attr("fill", "#000").style("font-family", FONT);
svg.append("line").attr("x1", L).attr("x2", R).attr("y1", B).attr("y2", B)
  .attr("stroke", "#111").attr("stroke-width", 2);
svg.append("text").attr("x", 1991).attr("y", 1258).attr("text-anchor", "middle")
  .attr("font-size", 24).text("Zeit");

// left axis (%H)
const gyMinor = svg.append("g").attr("transform", "translate(95,0)")
  .call(d3.axisLeft(yL).tickValues(d3.range(0, 101, 1)).tickSize(7).tickFormat(""));
const gyMid = svg.append("g").attr("transform", "translate(95,0)")
  .call(d3.axisLeft(yL).tickValues(d3.range(5, 100, 10)).tickSize(12).tickFormat(""));
const gyMaj = svg.append("g").attr("transform", "translate(95,0)")
  .call(d3.axisLeft(yL).tickValues(rhTicks).tickSize(13).tickPadding(2));
[gyMinor, gyMid, gyMaj].forEach(g => {
  g.select(".domain").remove();
  g.selectAll("line").attr("stroke", "#6a6a6a").attr("stroke-width", 1.6);
});
gyMaj.selectAll("text").attr("font-size", 23).attr("fill", "#000").style("font-family", FONT);

// inner ticks next to the plot border
const gyIn = svg.append("g").attr("transform", `translate(${L - 1},0)`)
  .call(d3.axisLeft(yL).tickValues(d3.range(0, 67).map(k => 0.58 + k * 1.494)).tickSize(5).tickFormat(""));
gyIn.select(".domain").remove();
gyIn.selectAll("line").attr("stroke", "#222").attr("stroke-width", 1.3);
svg.append("line").attr("x1", L - 0.5).attr("x2", L - 0.5).attr("y1", T).attr("y2", B)
  .attr("stroke", "#000").attr("stroke-width", 1.6);
svg.append("text").attr("x", 12).attr("y", 49).attr("font-size", 23).text("%H");

// right axis (°C)
const gr1 = svg.append("g").attr("transform", `translate(${R},0)`)
  .call(d3.axisRight(yR).tickValues(d3.range(-15, 36, 1)).tickSize(8).tickFormat(""));
const gr2 = svg.append("g").attr("transform", `translate(${R},0)`)
  .call(d3.axisRight(yR).tickValues(d3.range(-15, 36, 5)).tickSize(13).tickFormat(""));
const gr3 = svg.append("g").attr("transform", `translate(${R},0)`)
  .call(d3.axisRight(yR).tickValues(tempTicks).tickSize(13).tickPadding(1));
[gr1, gr2, gr3].forEach(g => {
  g.select(".domain").remove();
  g.selectAll("line").attr("stroke", "#6a6a6a").attr("stroke-width", 1.6);
});
gr3.selectAll("text").attr("font-size", 23).attr("fill", "#000").style("font-family", FONT);
svg.append("line").attr("x1", R).attr("x2", R).attr("y1", T).attr("y2", B)
  .attr("stroke", "#6a6a6a").attr("stroke-width", 2);
svg.append("text").attr("x", 2015).attr("y", 49).attr("font-size", 23).text("°C");

// series
const plot = svg.append("g");
seriesData.forEach((data, i) => {
  const ys = seriesUnit[i] === "C" ? yR : yL;
  const line = d3.line().x(d => x(toDate(d[0]))).y(d => ys(d[1]));
  plot.append("path").datum(data).attr("d", line).attr("fill", "none")
    .attr("stroke", seriesColors[i]).attr("stroke-width", seriesUnit[i] === "C" ? 1.5 : 1.6)
    .attr("stroke-linejoin", "round");
});

// legend: 4 columns x 2 rows, filled row by row
const legendColX = [202, 645, 1088, 1529];
const legendRowY = [15, 39];
const lg = svg.append("g");
seriesNames.forEach((name, i) => {
  const cx = legendColX[i % 4], cy = legendRowY[Math.floor(i / 4)];
  lg.append("line").attr("x1", cx).attr("x2", cx + 56).attr("y1", cy).attr("y2", cy)
    .attr("stroke", seriesColors[i]).attr("stroke-width", 2);
  lg.append("text").attr("x", cx + 74).attr("y", cy + 9).attr("font-size", 24).text(name);
});

// red arrow
const ay = yL(arrowLevel);
const ax0 = x(toDate(domainDays[0])), ax1 = x(toDate(arrowEndDay));
svg.append("line").attr("x1", ax0).attr("x2", ax1 - 40).attr("y1", ay).attr("y2", ay)
  .attr("stroke", "#ff0000").attr("stroke-width", 5);
svg.append("path").attr("d", `M${ax1 - 49},${ay - 28}L${ax1},${ay}L${ax1 - 49},${ay + 28}Z`)
  .attr("fill", "#ff0000");

// annotation box
const nx = x(toDate(noteAt[0])), ny = yL(noteAt[1]);
svg.append("rect").attr("x", nx - 109).attr("y", ny - 20).attr("width", 218).attr("height", 40)
  .attr("fill", "#fff").attr("stroke", "#000").attr("stroke-width", 2.5);
svg.append("text").attr("x", nx).attr("y", ny + 8).attr("text-anchor", "middle")
  .attr("font-size", 26).attr("font-weight", "bold").text(noteText);
</script>
</body></html>
